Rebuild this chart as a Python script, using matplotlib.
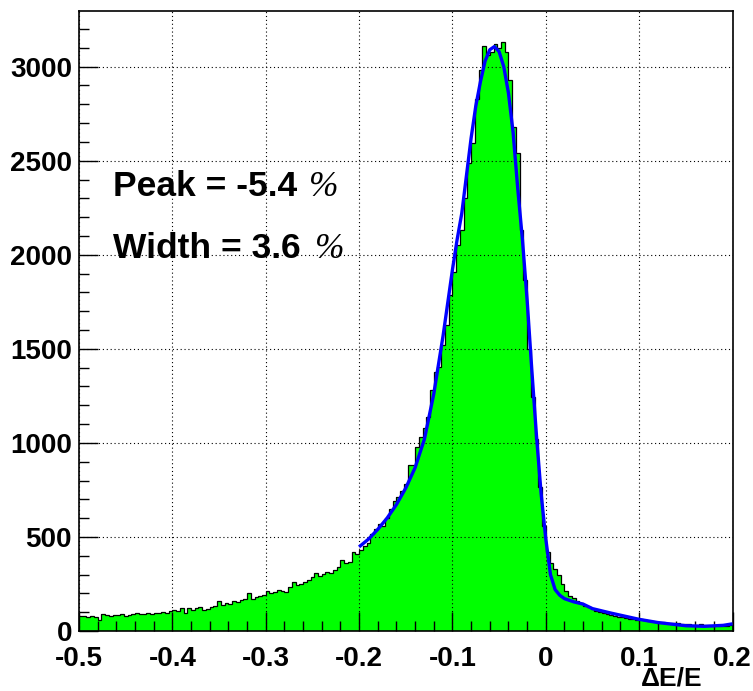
import numpy as np
import matplotlib.pyplot as plt
from matplotlib.ticker import MultipleLocator, FixedLocator, FixedFormatter

plt.rcParams['font.family'] = ['Liberation Sans', 'DejaVu Sans']
plt.rcParams['axes.unicode_minus'] = False

# Histogram of dE/E: 175 bins from -0.5 to 0.2
x_min = -0.5
x_max = 0.2
counts = [
    78, 80, 76, 82, 74, 57, 88, 84, 80, 86,
    84, 88, 82, 86, 90, 94, 88, 92, 96, 90,
    98, 94, 102, 96, 108, 110, 104, 124, 96, 120,
    112, 120, 126, 110, 118, 130, 134, 158, 140, 150,
    146, 158, 154, 163, 170, 202, 168, 179, 186, 190,
    213, 200, 208, 216, 212, 207, 232, 261, 245, 252,
    261, 270, 286, 307, 290, 304, 314, 310, 323, 340,
    376, 360, 367, 420, 412, 430, 450, 470, 515, 540,
    570, 560, 600, 650, 690, 710, 745, 780, 881, 881,
    979, 1030, 1078, 1138, 1280, 1378, 1404, 1520, 1626, 1786,
    1910, 2050, 2132, 2300, 2488, 2595, 2830, 2980, 3110, 3060,
    3080, 3120, 3100, 3130, 3080, 2930, 2681, 2541, 2132, 1866,
    1500, 1245, 1020, 766, 560, 420, 360, 330, 300, 250,
    210, 185, 176, 160, 148, 135, 125, 115, 106, 100,
    94, 90, 85, 80, 76, 72, 70, 66, 64, 60,
    62, 56, 54, 52, 48, 46, 50, 44, 42, 40,
    44, 38, 36, 38, 34, 32, 36, 30, 32, 28,
    30, 26, 28, 24, 30,
]

# Fit curve
fit_x = [-0.2, -0.19, -0.18, -0.17, -0.16, -0.15, -0.14, -0.13, -0.12,
         -0.11, -0.1, -0.095, -0.09, -0.085, -0.08, -0.075, -0.07, -0.065, -0.06,
         -0.055, -0.05, -0.045, -0.04, -0.035, -0.03, -0.025, -0.02, -0.015, -0.01,
         -0.005, 0.0, 0.005, 0.01, 0.015, 0.02, 0.03, 0.04, 0.05, 0.07,
         0.1, 0.12, 0.15, 0.17, 0.19, 0.2]
fit_y = [447, 488, 540, 600, 672, 760, 868, 1020, 1260,
         1570, 1920, 2080, 2220, 2420, 2620, 2790, 2920, 3030, 3090,
         3107, 3080, 3000, 2860, 2650, 2350, 2080, 1760, 1390, 1040,
         730, 490, 300, 220, 190, 172, 155, 143, 119, 95,
         62, 45, 28, 25, 30, 38]

x_ticks = [-0.5, -0.4, -0.3, -0.2, -0.1, 0.0, 0.1, 0.2]
x_tick_labels = ['-0.5', '-0.4', '-0.3', '-0.2', '-0.1', '0', '0.1', '0.2']
y_ticks = [0, 500, 1000, 1500, 2000, 2500, 3000]
y_tick_labels = ['0', '500', '1000', '1500', '2000', '2500', '3000']

edges = np.linspace(x_min, x_max, len(counts) + 1)

fig = plt.figure(figsize=(7.53, 6.91), dpi=100)
ax = fig.add_axes([79 / 753, 1 - 631 / 691, (732.5 - 79) / 753, (631 - 11) / 691])

# filled histogram + outline
ax.stairs(counts, edges, fill=True, color='#00ff00', zorder=1)
ax.stairs(counts, edges, color='black', lw=0.9, baseline=None, zorder=1.5)

# fit
ax.plot(fit_x, fit_y, color='#0000ff', lw=2.4, zorder=3, solid_capstyle='butt')

ax.set_xlim(x_min, x_max)
ax.set_ylim(0, 3296)

# grid on top of the fill
ax.set_axisbelow(False)
ax.grid(True, which='major', color='black', linestyle=(0, (1, 2.5)), lw=0.8)

ax.xaxis.set_major_locator(FixedLocator(x_ticks))
ax.xaxis.set_major_formatter(FixedFormatter(x_tick_labels))
ax.yaxis.set_major_locator(FixedLocator(y_ticks))
ax.yaxis.set_major_formatter(FixedFormatter(y_tick_labels))
ax.xaxis.set_minor_locator(MultipleLocator(0.02))
ax.yaxis.set_minor_locator(MultipleLocator(100))

ax.tick_params(which='both', direction='in', top=False, right=False, color='black', width=1.0)
ax.tick_params(which='major', length=14)
ax.tick_params(which='minor', length=7)
ax.tick_params(axis='x', which='major', pad=11)
ax.tick_params(axis='y', which='major', pad=5)
for lab in ax.get_xticklabels() + ax.get_yticklabels():
    lab.set_fontsize(20)
    lab.set_fontweight('bold')

for sp in ax.spines.values():
    sp.set_linewidth(1.2)

# axis title bottom-right
fig.text(702 / 753, 1 - 686 / 691, 'ΔE/E', ha='right', va='baseline',
         fontsize=19, fontweight='bold')

# fit results
fig.text(113 / 753, 1 - 196 / 691, 'Peak = -5.4', ha='left', va='baseline',
         fontsize=25.5, fontweight='bold')
fig.text(309 / 753, 1 - 196 / 691, '%', ha='left', va='baseline',
         fontsize=25.5, family='Liberation Serif', style='italic')
fig.text(113 / 753, 1 - 258 / 691, 'Width = 3.6', ha='left', va='baseline',
         fontsize=25.5, fontweight='bold')
fig.text(315 / 753, 1 - 258 / 691, '%', ha='left', va='baseline',
         fontsize=25.5, family='Liberation Serif', style='italic')

fig.savefig('out.png', dpi=100)
